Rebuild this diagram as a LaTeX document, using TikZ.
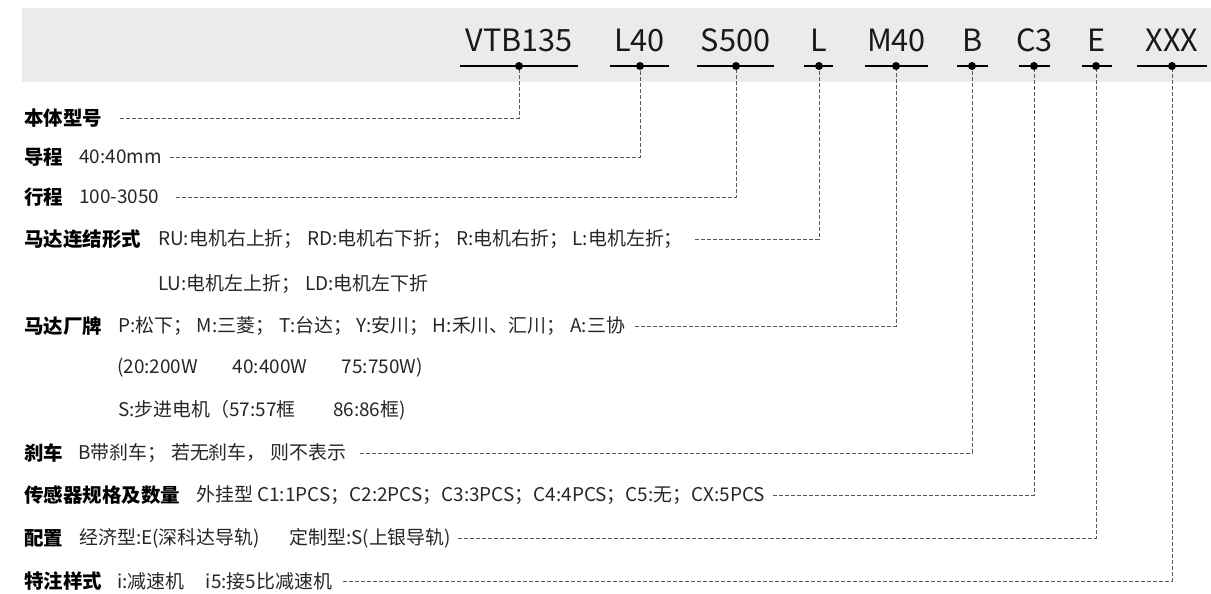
\documentclass[tikz,border=0pt]{standalone}
\usepackage{fontspec}
\setmainfont{Noto Sans CJK SC}
\newfontfamily\cjk{Noto Sans CJK SC}
\newcommand\sx{\hspace{3.5pt}}
\begin{document}
\begin{tikzpicture}[x=0.75pt,y=-0.75pt,
  codetext/.style={font=\cjk\fontsize{23}{26}\selectfont, anchor=base, inner sep=0pt, text=black!90},
  seg/.style={line width=1.5pt, black},
  pin/.style={circle, fill=black, inner sep=0pt, minimum size=6pt},
  lbl/.style={font=\cjk\bfseries\fontsize{14.6}{17}\selectfont, anchor=west, inner sep=0pt},
  desc/.style={font=\cjk\fontsize{14.2}{17}\selectfont, anchor=west, inner sep=0pt, text=black!85},
  lead/.style={draw=black!65, line width=0.75pt, dash pattern=on 3pt off 1.5pt}]
\useasboundingbox (0,0) rectangle (1211,593);
\fill[black!8] (22,8) rectangle (1211,82);
% code segments: name / left / right / dot / text center
\foreach \n/\l/\r/\d/\t in {a/460/578/519/VTB135, b/610/669/640/L40, c/697/774/736/S500, d/804/833/819/L, e/865/928/896/M40, f/957/988/972/B, g/1019/1050/1034/C3, h/1082/1112/1096/E, i/1137/1207/1172/XXX}{
  \draw[seg] (\l,66) -- (\r,66);
  \node[pin] (p\n) at (\d,66) {};
  \node[codetext] (t\n) at ({(\l+\r)/2},51.5) {\t};
}
% rows
\node[lbl] (la) at (24,118) {本体型号};
\node[lbl] (lb) at (24,157) {导程};
\node[desc] (db) at (79,157) {40:40mm};
\node[lbl] (lc) at (24,197) {行程};
\node[desc] (dc) at (79,197) {100-3050};
\node[lbl] (ld) at (24,239) {马达连结形式};
\node[desc] (dd) at (158,239) {RU:电机右上折；\sx RD:电机右下折；\sx R:电机右折；\sx L:电机左折；};
\node[desc] (dd2) at (158,284) {LU:电机左上折；\sx LD:电机左下折};
\node[lbl] (le) at (24,326) {马达厂牌};
\node[desc] (de) at (118,326) {P:松下；\sx M:三菱；\sx T:台达；\sx Y:安川；\sx H:禾川、汇川；\sx A:三协};
\node[desc] (de2) at (117,368) {(20:200W\hspace{26pt}40:400W\hspace{26pt}75:750W)};
\node[desc] (de3) at (118,410) {S:步进电机（57:57框\hspace{28pt}86:86框)};
\node[lbl] (lf) at (24,453) {刹车};
\node[desc] (df) at (78,453) {B带刹车；\sx 若无刹车，\sx 则不表示};
\node[lbl] (lg) at (24,495) {传感器规格及数量};
\node[desc] (dg) at (196,495) {外挂型 C1:1PCS；C2:2PCS；C3:3PCS；C4:4PCS；C5:无；CX:5PCS};
\node[lbl] (lh) at (24,538) {配置};
\node[desc] (dh) at (79,538) {经济型:E(深科达导轨)\hspace{22pt}定制型:S(上银导轨)};
\node[lbl] (li) at (24,581) {特注样式};
\node[desc] (di) at (117,581) {i:减速机\hspace{16pt}i5:接5比减速机};
% leaders
\draw[lead] ([xshift=13pt]la.east) -| (pa.south);
\draw[lead] ([xshift=6pt]db.east) -| (pb.south);
\draw[lead] ([xshift=12pt]dc.east) -| (pc.south);
\draw[lead] ([xshift=9pt]dd.east) -| (pd.south);
\draw[lead] ([xshift=7pt]de.east) -| (pe.south);
\draw[lead] ([xshift=10pt]df.east) -| (pf.south);
\draw[lead] ([xshift=6pt]dg.east) -| (pg.south);
\draw[lead] ([xshift=5pt]dh.east) -| (ph.south);
\draw[lead] ([xshift=8pt]di.east) -| (pi.south);
\end{tikzpicture}
\end{document}
